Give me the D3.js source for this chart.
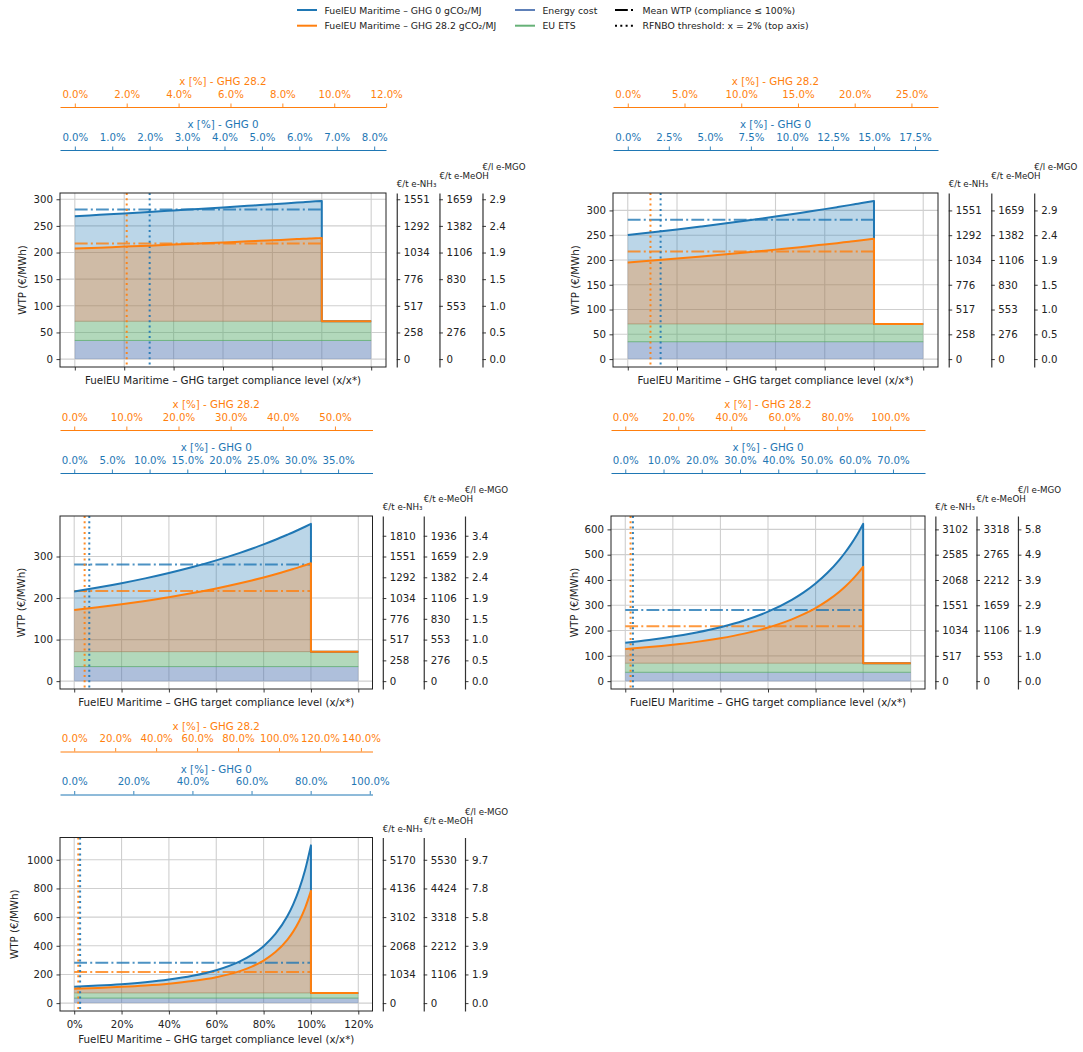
<!DOCTYPE html>
<html>
<head>
<meta charset="utf-8">
<script src="https://cdn.jsdelivr.net/npm/d3@7"></script>
<style>
  body { margin: 0; background: #ffffff; }
  svg { display: block; font-family: "DejaVu Sans", sans-serif; }
</style>
</head>
<body>
<svg id="chart" width="1083" height="1052"></svg>
<script>
// ---------------------------------------------------------------------------
// Data
// ---------------------------------------------------------------------------

// Compliance level x/x* at which the WTP curves are sampled
const compliance = [0, 0.1, 0.2, 0.3, 0.4, 0.5, 0.6, 0.7, 0.75, 0.8, 0.85, 0.9, 0.925, 0.95, 0.975, 1.0];

// WTP (€/MWh) of the RFNBO fuel, one pair of series per target level
const wtpGhg0P1  = [268.1, 270.7, 273.4, 276.1, 278.9, 281.8, 284.7, 287.7, 289.2, 290.7, 292.2, 293.8, 294.6, 295.4, 296.1, 296.9];
const wtpGhg28P1 = [207.4, 209.2, 211.1, 212.9, 214.9, 216.9, 218.9, 221.0, 222.0, 223.0, 224.1, 225.2, 225.7, 226.3, 226.8, 227.3];
const wtpGhg0P2  = [250.4, 255.9, 261.6, 267.7, 274.0, 280.6, 287.6, 294.9, 298.7, 302.6, 306.6, 310.7, 312.8, 314.9, 317.1, 319.2];
const wtpGhg28P2 = [195.1, 198.9, 202.9, 207.1, 211.5, 216.0, 220.9, 225.9, 228.6, 231.3, 234.0, 236.9, 238.3, 239.8, 241.3, 242.8];
const wtpGhg0P3  = [215.8, 225.3, 235.8, 247.4, 260.3, 274.7, 290.8, 308.8, 318.7, 329.2, 340.3, 352.3, 358.5, 365.0, 371.7, 378.6];
const wtpGhg28P3 = [171.2, 177.8, 185.0, 193.1, 202.0, 212.0, 223.1, 235.6, 242.4, 249.7, 257.4, 265.7, 270.0, 274.4, 279.1, 283.9];
const wtpGhg0P4  = [151.8, 162.8, 176.2, 192.7, 213.4, 240.0, 274.7, 321.4, 350.9, 386.1, 428.3, 479.6, 509.5, 542.8, 580.0, 621.8];
const wtpGhg28P4 = [126.9, 134.5, 143.8, 155.2, 169.6, 187.9, 212.0, 244.3, 264.7, 289.1, 318.3, 353.8, 374.4, 397.5, 423.2, 452.2];
const wtpGhg0P5  = [114.3, 122.1, 132.2, 145.6, 164.0, 190.2, 229.2, 290.9, 336.4, 397.5, 482.5, 605.5, 688.8, 793.2, 926.5, 1100.4];
const wtpGhg28P5 = [100.9, 106.3, 113.3, 122.6, 135.4, 153.5, 180.4, 223.2, 254.7, 296.9, 355.8, 440.9, 498.5, 570.8, 663.0, 783.3];

// Cost floor components (€/MWh)
const energyCost = 35;
const euEtsCost = 36;

// Mean WTP over compliance ≤ 100 % (€/MWh)
const meanWtpGhg0 = 281;
const meanWtpGhg28 = 217;

// Required blend share x* (%) for each target level
const xStarGhg0  = [6.6, 15.0, 31.4, 62.2, 80.1];
const xStarGhg28 = [9.52, 21.7, 45.4, 89.8, 115.6];

// RFNBO threshold share (%)
const rfnboThreshold = 2;

// Axis ticks
const complianceTicks = [0, 0.2, 0.4, 0.6, 0.8, 1.0, 1.2];

const wtpTicksP1 = [0, 50, 100, 150, 200, 250, 300];
const wtpTicksP2 = [0, 50, 100, 150, 200, 250, 300];
const wtpTicksP3 = [0, 100, 200, 300];
const wtpTicksP4 = [0, 100, 200, 300, 400, 500, 600];
const wtpTicksP5 = [0, 200, 400, 600, 800, 1000];

const fuelTicksP1 = [0, 50, 100, 150, 200, 250, 300];
const fuelTicksP2 = [0, 50, 100, 150, 200, 250, 300];
const fuelTicksP3 = [0, 50, 100, 150, 200, 250, 300, 350];
const fuelTicksP4 = [0, 100, 200, 300, 400, 500, 600];
const fuelTicksP5 = [0, 200, 400, 600, 800, 1000];

const nh3LabelsP1  = ["0", "258", "517", "776", "1034", "1292", "1551"];
const meohLabelsP1 = ["0", "276", "553", "830", "1106", "1382", "1659"];
const mgoLabelsP1  = ["0.0", "0.5", "1.0", "1.5", "1.9", "2.4", "2.9"];
const nh3LabelsP3  = ["0", "258", "517", "776", "1034", "1292", "1551", "1810"];
const meohLabelsP3 = ["0", "276", "553", "830", "1106", "1382", "1659", "1936"];
const mgoLabelsP3  = ["0.0", "0.5", "1.0", "1.5", "1.9", "2.4", "2.9", "3.4"];
const nh3LabelsP4  = ["0", "517", "1034", "1551", "2068", "2585", "3102"];
const meohLabelsP4 = ["0", "553", "1106", "1659", "2212", "2765", "3318"];
const mgoLabelsP4  = ["0.0", "1.0", "1.9", "2.9", "3.9", "4.9", "5.8"];
const nh3LabelsP5  = ["0", "1034", "2068", "3102", "4136", "5170"];
const meohLabelsP5 = ["0", "1106", "2212", "3318", "4424", "5530"];
const mgoLabelsP5  = ["0.0", "1.9", "3.9", "5.8", "7.8", "9.7"];

const shareTicksGhg0P1 = [0, 1, 2, 3, 4, 5, 6, 7, 8];
const shareTicksGhg0P2 = [0, 2.5, 5, 7.5, 10, 12.5, 15, 17.5];
const shareTicksGhg0P3 = [0, 5, 10, 15, 20, 25, 30, 35];
const shareTicksGhg0P4 = [0, 10, 20, 30, 40, 50, 60, 70];
const shareTicksGhg0P5 = [0, 20, 40, 60, 80, 100];
const shareTicksGhg28P1 = [0, 2, 4, 6, 8, 10, 12];
const shareTicksGhg28P2 = [0, 5, 10, 15, 20, 25];
const shareTicksGhg28P3 = [0, 10, 20, 30, 40, 50];
const shareTicksGhg28P4 = [0, 20, 40, 60, 80, 100];
const shareTicksGhg28P5 = [0, 20, 40, 60, 80, 100, 120, 140];

// Legend entries
const legendLabels = [
  "FuelEU Maritime – GHG 0 gCO₂/MJ",
  "FuelEU Maritime – GHG 28.2 gCO₂/MJ",
  "Energy cost",
  "EU ETS",
  "Mean WTP (compliance ≤ 100%)",
  "RFNBO threshold: x = 2% (top axis)"
];

// ---------------------------------------------------------------------------
// Styling
// ---------------------------------------------------------------------------
const C_GHG0 = "#1f77b4";
const C_GHG28 = "#ff7f0e";
const C_ENERGY = "#4c72b0";
const C_ETS = "#55a868";
const C_INK = "#222222";
const C_GRID = "#cfcfcf";
const FONT = "DejaVu Sans, sans-serif";
const TICK_FS = 10.2;
const LABEL_FS = 10.3;
const DASHDOT = "12.8,3.2,2,3.2";
const DOTTED = "2,3.3";

const svg = d3.select("#chart");

// Panel layout: frame box [left, right, top, bottom]
const panels = [
  { box: [60, 386, 193, 367], ghg0: wtpGhg0P1, ghg28: wtpGhg28P1, xs0: xStarGhg0[0], xs28: xStarGhg28[0],
    wtpTicks: wtpTicksP1, fuelTicks: fuelTicksP1, nh3: nh3LabelsP1, meoh: meohLabelsP1, mgo: mgoLabelsP1,
    top0: shareTicksGhg0P1, top28: shareTicksGhg28P1, yLabelX: 21.5, xLabels: false },
  { box: [613, 938, 193, 367], ghg0: wtpGhg0P2, ghg28: wtpGhg28P2, xs0: xStarGhg0[1], xs28: xStarGhg28[1],
    wtpTicks: wtpTicksP2, fuelTicks: fuelTicksP2, nh3: nh3LabelsP1, meoh: meohLabelsP1, mgo: mgoLabelsP1,
    top0: shareTicksGhg0P2, top28: shareTicksGhg28P2, yLabelX: 575, xLabels: false },
  { box: [60, 372.5, 516, 689], ghg0: wtpGhg0P3, ghg28: wtpGhg28P3, xs0: xStarGhg0[2], xs28: xStarGhg28[2],
    wtpTicks: wtpTicksP3, fuelTicks: fuelTicksP3, nh3: nh3LabelsP3, meoh: meohLabelsP3, mgo: mgoLabelsP3,
    top0: shareTicksGhg0P3, top28: shareTicksGhg28P3, yLabelX: 21, xLabels: false },
  { box: [611, 925, 516, 689], ghg0: wtpGhg0P4, ghg28: wtpGhg28P4, xs0: xStarGhg0[3], xs28: xStarGhg28[3],
    wtpTicks: wtpTicksP4, fuelTicks: fuelTicksP4, nh3: nh3LabelsP4, meoh: meohLabelsP4, mgo: mgoLabelsP4,
    top0: shareTicksGhg0P4, top28: shareTicksGhg28P4, yLabelX: 574.3, xLabels: false },
  { box: [60, 372.5, 837.5, 1011], ghg0: wtpGhg0P5, ghg28: wtpGhg28P5, xs0: xStarGhg0[4], xs28: xStarGhg28[4],
    wtpTicks: wtpTicksP5, fuelTicks: fuelTicksP5, nh3: nh3LabelsP5, meoh: meohLabelsP5, mgo: mgoLabelsP5,
    top0: shareTicksGhg0P5, top28: shareTicksGhg28P5, yLabelX: 13.8, xLabels: true }
];

function styleAxis(g, color, fs) {
  g.attr("font-family", FONT).attr("font-size", fs).attr("color", color);
  g.selectAll(".tick line").attr("stroke-width", 0.9);
  g.select(".domain").attr("stroke-width", 1);
}

function drawPanel(p) {
  const [L, R, T, B] = p.box;
  const W = R - L;
  const base = energyCost + euEtsCost;

  const x = d3.scaleLinear().domain([-0.06, 1.26]).range([L, R]);
  const yMax = d3.max(p.ghg0);
  const y = d3.scaleLinear().domain([-0.05 * yMax, 1.05 * yMax]).range([B, T]);
  const top0 = d3.scaleLinear().domain([-0.06 * p.xs0, 1.26 * p.xs0]).range([L, R]);
  const top28 = d3.scaleLinear().domain([-0.06 * p.xs28, 1.26 * p.xs28]).range([L, R]);

  const g = svg.append("g");

  // grid
  g.selectAll("line.vgrid").data(complianceTicks).join("line").attr("class", "vgrid")
    .attr("x1", d => x(d)).attr("x2", d => x(d)).attr("y1", T).attr("y2", B)
    .attr("stroke", C_GRID).attr("stroke-width", 1.1);
  g.selectAll("line.hgrid").data(p.wtpTicks).join("line").attr("class", "hgrid")
    .attr("x1", L).attr("x2", R).attr("y1", d => y(d)).attr("y2", d => y(d))
    .attr("stroke", C_GRID).attr("stroke-width", 1.1);

  // cost floor bands over the full compliance range
  const fullRange = [0, 1.2];
  const band = (lo, hi, color) => d3.area().x(d => x(d)).y0(() => y(lo)).y1(() => y(hi));
  g.append("path").datum(fullRange).attr("d", band(0, energyCost))
    .attr("fill", C_ENERGY).attr("fill-opacity", 0.45);
  g.append("path").datum(fullRange).attr("d", band(energyCost, base))
    .attr("fill", C_ETS).attr("fill-opacity", 0.45);
  g.append("line").attr("x1", x(0)).attr("x2", x(1.2)).attr("y1", y(energyCost)).attr("y2", y(energyCost))
    .attr("stroke", C_ETS).attr("stroke-opacity", 0.75).attr("stroke-width", 1);
  g.append("line").attr("x1", x(0)).attr("x2", x(1.2)).attr("y1", y(base)).attr("y2", y(base))
    .attr("stroke", "#9a8a60").attr("stroke-opacity", 0.6).attr("stroke-width", 1);

  // WTP areas above the cost floor
  const pts0 = compliance.map((c, i) => [c, p.ghg0[i]]);
  const pts28 = compliance.map((c, i) => [c, p.ghg28[i]]);
  const area = d3.area().x(d => x(d[0])).y0(() => y(base)).y1(d => y(d[1])).curve(d3.curveMonotoneX);
  g.append("path").datum(pts0).attr("d", area).attr("fill", C_GHG0).attr("fill-opacity", 0.3);
  g.append("path").datum(pts28).attr("d", area).attr("fill", C_GHG28).attr("fill-opacity", 0.3);

  // mean WTP lines
  [[meanWtpGhg0, C_GHG0], [meanWtpGhg28, C_GHG28]].forEach(([m, col]) => {
    g.append("line").attr("x1", x(0)).attr("x2", x(1)).attr("y1", y(m)).attr("y2", y(m))
      .attr("stroke", col).attr("stroke-opacity", 0.8).attr("stroke-width", 2)
      .attr("stroke-dasharray", DASHDOT);
  });

  // RFNBO threshold lines placed on the share axes
  [[top28, C_GHG28], [top0, C_GHG0]].forEach(([s, col]) => {
    g.append("line").attr("x1", s(rfnboThreshold)).attr("x2", s(rfnboThreshold)).attr("y1", T).attr("y2", B)
      .attr("stroke", col).attr("stroke-opacity", 0.9).attr("stroke-width", 2)
      .attr("stroke-dasharray", DOTTED);
  });

  // WTP curves with drop to the cost floor beyond full compliance
  const line = d3.line().x(d => x(d[0])).y(d => y(d[1])).curve(d3.curveMonotoneX);
  const tail = `L${x(1)},${y(base)}L${x(1.2)},${y(base)}`;
  g.append("path").attr("d", line(pts0) + tail).attr("fill", "none")
    .attr("stroke", C_GHG0).attr("stroke-width", 2).attr("stroke-linejoin", "round");
  g.append("path").attr("d", line(pts28) + tail).attr("fill", "none")
    .attr("stroke", C_GHG28).attr("stroke-width", 2).attr("stroke-linejoin", "round");

  // frame
  g.append("rect").attr("x", L).attr("y", T).attr("width", W).attr("height", B - T)
    .attr("fill", "none").attr("stroke", C_INK).attr("stroke-width", 1);

  // left axis
  const gl = svg.append("g").attr("transform", `translate(${L},0)`)
    .call(d3.axisLeft(y).tickValues(p.wtpTicks).tickFormat(d3.format("d")).tickSizeInner(3.5).tickSizeOuter(0).tickPadding(3.5));
  gl.select(".domain").remove();
  styleAxis(gl, C_INK, TICK_FS);

  // bottom axis
  const gb = svg.append("g").attr("transform", `translate(0,${B})`)
    .call(d3.axisBottom(x).tickValues(complianceTicks)
      .tickFormat(p.xLabels ? d3.format(".0%") : () => "")
      .tickSizeInner(3.5).tickSizeOuter(0).tickPadding(6));
  gb.select(".domain").remove();
  styleAxis(gb, C_INK, TICK_FS);

  // axis titles
  svg.append("text").attr("x", (L + R) / 2).attr("y", B + (p.xLabels ? 28 : 13))
    .attr("text-anchor", "middle").attr("dominant-baseline", "central")
    .attr("font-size", LABEL_FS).attr("fill", C_INK)
    .text("FuelEU Maritime – GHG target compliance level (x/x*)");
  svg.append("text").attr("transform", `translate(${p.yLabelX},${(T + B) / 2}) rotate(-90)`)
    .attr("text-anchor", "middle").attr("dominant-baseline", "central")
    .attr("font-size", LABEL_FS).attr("fill", C_INK).text("WTP (€/MWh)");

  // share axes on top
  const shareFmt = d => d.toFixed(1) + "%";
  [[top28, p.top28, C_GHG28, T - 86, "x [%] - GHG 28.2"], [top0, p.top0, C_GHG0, T - 43, "x [%] - GHG 0"]]
    .forEach(([s, ticks, col, yPos, title]) => {
      const ga = svg.append("g").attr("transform", `translate(0,${yPos})`)
        .call(d3.axisTop(s).tickValues(ticks).tickFormat(shareFmt).tickSizeInner(3.5).tickSizeOuter(0).tickPadding(6));
      styleAxis(ga, col, TICK_FS);
      svg.append("text").attr("x", (L + R) / 2).attr("y", yPos - 26)
        .attr("text-anchor", "middle").attr("dominant-baseline", "central")
        .attr("font-size", LABEL_FS).attr("fill", col).text(title);
    });

  // fuel price axes on the right
  const fuels = [
    { frac: 1.033, labels: p.nh3, title: "€/t e-NH₃", dy: 9 },
    { frac: 1.164, labels: p.meoh, title: "€/t e-MeOH", dy: 17 },
    { frac: 1.296, labels: p.mgo, title: "€/l e-MGO", dy: 26 }
  ];
  fuels.forEach(f => {
    const xPos = L + W * f.frac;
    const ga = svg.append("g").attr("transform", `translate(${xPos},0)`)
      .call(d3.axisRight(y).tickValues(p.fuelTicks).tickFormat((d, i) => f.labels[i])
        .tickSizeInner(3.5).tickSizeOuter(0).tickPadding(3.5));
    styleAxis(ga, C_INK, TICK_FS);
    ga.select(".domain").attr("stroke", "#333").attr("stroke-width", 1.2);
    svg.append("text").attr("x", xPos).attr("y", T - f.dy)
      .attr("dominant-baseline", "central").attr("font-size", 8.7).attr("fill", C_INK).text(f.title);
  });
}

panels.forEach(drawPanel);

// ---------------------------------------------------------------------------
// Legend
// ---------------------------------------------------------------------------
const legendItems = [
  { x: 297, row: 0, color: C_GHG0, dash: null, opacity: 1 },
  { x: 297, row: 1, color: C_GHG28, dash: null, opacity: 1 },
  { x: 515, row: 0, color: C_ENERGY, dash: null, opacity: 0.9 },
  { x: 515, row: 1, color: C_ETS, dash: null, opacity: 0.9 },
  { x: 615, row: 0, color: "#000", dash: DASHDOT, opacity: 1 },
  { x: 615, row: 1, color: "#000", dash: DOTTED, opacity: 1 }
];
const legendRows = [10, 25.7];
const lg = svg.append("g");
legendItems.forEach((it, i) => {
  const yy = legendRows[it.row];
  lg.append("line").attr("x1", it.x).attr("x2", it.x + 20).attr("y1", yy).attr("y2", yy)
    .attr("stroke", it.color).attr("stroke-opacity", it.opacity).attr("stroke-width", 2)
    .attr("stroke-dasharray", it.dash);
  lg.append("text").attr("x", it.x + 27.5).attr("y", yy).attr("dominant-baseline", "central")
    .attr("font-size", 9.3).attr("fill", C_INK).text(legendLabels[i]);
});
</script>
</body>
</html>
